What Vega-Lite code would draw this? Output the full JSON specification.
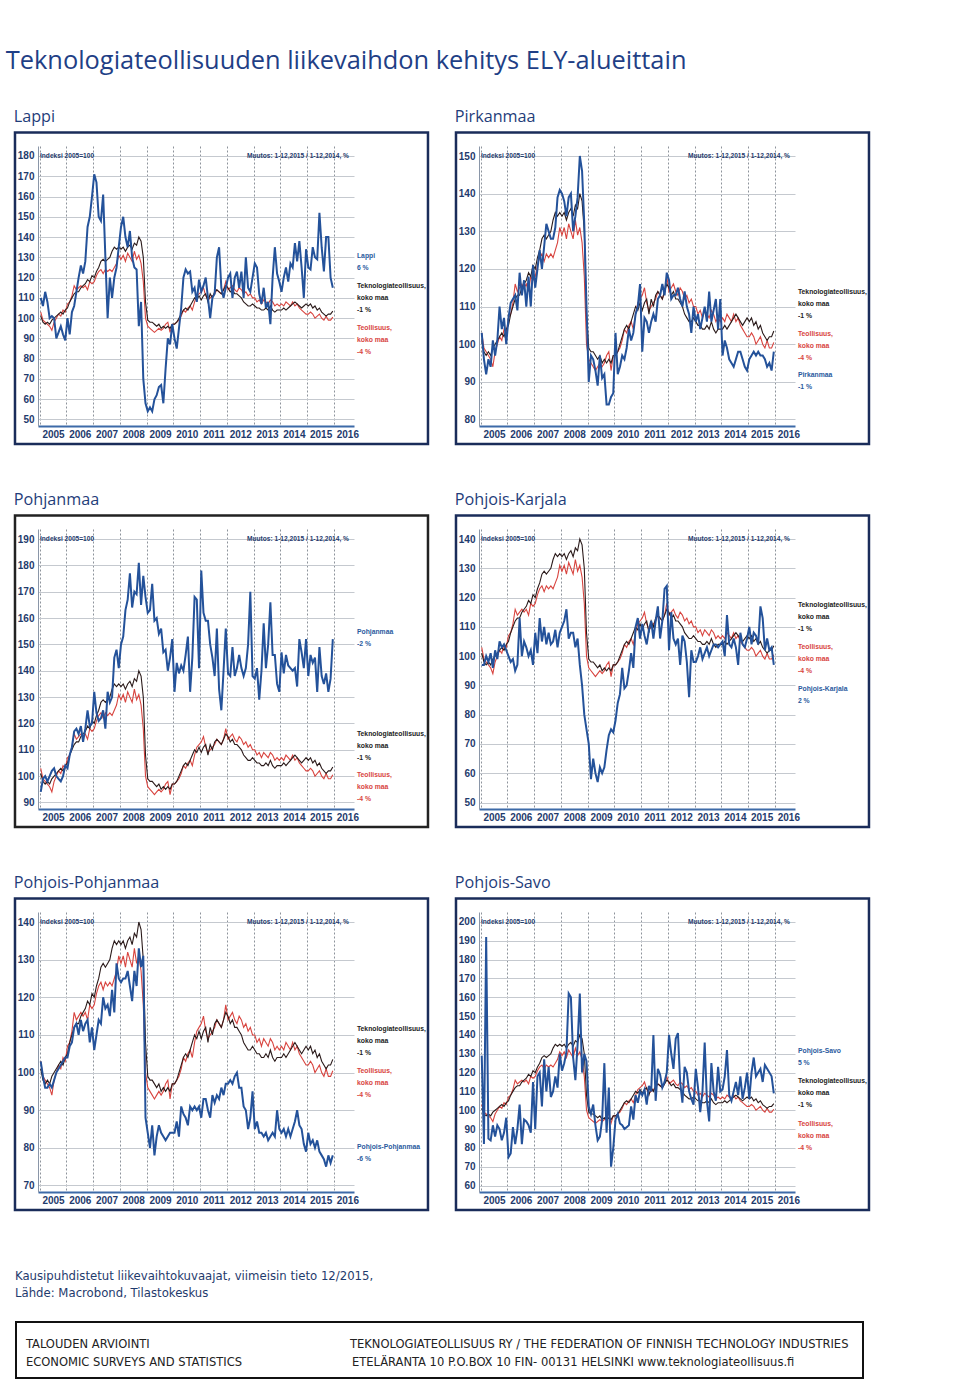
{
"$schema":"https://vega.github.io/schema/vega-lite/v6.json",
"background":"white",
"padding":{"top":48,"left":5,"right":5,"bottom":0},
"title":{"text":"Teknologiateollisuuden liikevaihdon kehitys ELY-alueittain","fontSize":25.4,"font":"Open Sans","fontWeight":"normal","color":"#1f3f86","anchor":"start","dx":-8,"offset":35},
"datasets":{"kk":[
{"t":2005.042,"tek":101,"teo":103,"Lappi":110,"Pirkanmaa":103,"Pohjanmaa":94,"PKarjala":97,"PPohjanmaa":103,"PSavo":129},
{"t":2005.125,"tek":98,"teo":99,"Lappi":106,"Pirkanmaa":96,"Pohjanmaa":99,"PKarjala":97,"PPohjanmaa":99,"PSavo":82},
{"t":2005.208,"tek":97,"teo":98,"Lappi":113,"Pirkanmaa":92,"Pohjanmaa":100,"PKarjala":100,"PPohjanmaa":96,"PSavo":192},
{"t":2005.292,"tek":98,"teo":97,"Lappi":108,"Pirkanmaa":96,"Pohjanmaa":98,"PKarjala":98,"PPohjanmaa":96,"PSavo":85},
{"t":2005.375,"tek":97,"teo":96,"Lappi":100,"Pirkanmaa":94,"Pohjanmaa":100,"PKarjala":101,"PPohjanmaa":97,"PSavo":84},
{"t":2005.458,"tek":99,"teo":94,"Lappi":101,"Pirkanmaa":101,"Pohjanmaa":102,"PKarjala":96,"PPohjanmaa":96,"PSavo":92},
{"t":2005.542,"tek":100,"teo":98,"Lappi":100,"Pirkanmaa":97,"Pohjanmaa":103,"PKarjala":102,"PPohjanmaa":98,"PSavo":86},
{"t":2005.625,"tek":101,"teo":100,"Lappi":90,"Pirkanmaa":101,"Pohjanmaa":100,"PKarjala":99,"PPohjanmaa":100,"PSavo":92},
{"t":2005.708,"tek":102,"teo":102,"Lappi":93,"Pirkanmaa":110,"Pohjanmaa":99,"PKarjala":105,"PPohjanmaa":101,"PSavo":90},
{"t":2005.792,"tek":103,"teo":101,"Lappi":96,"Pirkanmaa":104,"Pohjanmaa":98,"PKarjala":103,"PPohjanmaa":102,"PSavo":84},
{"t":2005.875,"tek":102,"teo":104,"Lappi":92,"Pirkanmaa":107,"Pohjanmaa":100,"PKarjala":104,"PPohjanmaa":103,"PSavo":88},
{"t":2005.958,"tek":104,"teo":103,"Lappi":89,"Pirkanmaa":100,"Pohjanmaa":104,"PKarjala":102,"PPohjanmaa":104,"PSavo":96},
{"t":2006.042,"tek":105,"teo":107,"Lappi":100,"Pirkanmaa":107,"Pohjanmaa":103,"PKarjala":100,"PPohjanmaa":104,"PSavo":75},
{"t":2006.125,"tek":108,"teo":108,"Lappi":92,"Pirkanmaa":111,"Pohjanmaa":108,"PKarjala":98,"PPohjanmaa":107,"PSavo":77},
{"t":2006.208,"tek":110,"teo":111,"Lappi":103,"Pirkanmaa":112,"Pohjanmaa":111,"PKarjala":99,"PPohjanmaa":108,"PSavo":91},
{"t":2006.292,"tek":112,"teo":116,"Lappi":106,"Pirkanmaa":113,"Pohjanmaa":117,"PKarjala":95,"PPohjanmaa":112,"PSavo":82},
{"t":2006.375,"tek":113,"teo":114,"Lappi":113,"Pirkanmaa":109,"Pohjanmaa":118,"PKarjala":97,"PPohjanmaa":113,"PSavo":90},
{"t":2006.458,"tek":113,"teo":115,"Lappi":120,"Pirkanmaa":119,"Pohjanmaa":116,"PKarjala":113,"PPohjanmaa":110,"PSavo":103},
{"t":2006.542,"tek":115,"teo":116,"Lappi":126,"Pirkanmaa":113,"Pohjanmaa":119,"PKarjala":100,"PPohjanmaa":114,"PSavo":82},
{"t":2006.625,"tek":116,"teo":115,"Lappi":122,"Pirkanmaa":117,"Pohjanmaa":113,"PKarjala":105,"PPohjanmaa":111,"PSavo":95},
{"t":2006.708,"tek":117,"teo":116,"Lappi":128,"Pirkanmaa":110,"Pohjanmaa":118,"PKarjala":103,"PPohjanmaa":113,"PSavo":94},
{"t":2006.792,"tek":119,"teo":114,"Lappi":145,"Pirkanmaa":118,"Pohjanmaa":125,"PKarjala":100,"PPohjanmaa":114,"PSavo":92},
{"t":2006.875,"tek":118,"teo":118,"Lappi":150,"Pirkanmaa":110,"Pohjanmaa":119,"PKarjala":102,"PPohjanmaa":108,"PSavo":88},
{"t":2006.958,"tek":121,"teo":117,"Lappi":160,"Pirkanmaa":121,"Pohjanmaa":120,"PKarjala":97,"PPohjanmaa":112,"PSavo":115},
{"t":2007.042,"tek":120,"teo":118,"Lappi":171,"Pirkanmaa":115,"Pohjanmaa":132,"PKarjala":108,"PPohjanmaa":106,"PSavo":90},
{"t":2007.125,"tek":123,"teo":121,"Lappi":167,"Pirkanmaa":120,"Pohjanmaa":124,"PKarjala":101,"PPohjanmaa":110,"PSavo":118},
{"t":2007.208,"tek":125,"teo":123,"Lappi":150,"Pirkanmaa":125,"Pohjanmaa":121,"PKarjala":113,"PPohjanmaa":114,"PSavo":120},
{"t":2007.292,"tek":128,"teo":124,"Lappi":148,"Pirkanmaa":120,"Pohjanmaa":122,"PKarjala":105,"PPohjanmaa":113,"PSavo":102},
{"t":2007.375,"tek":129,"teo":122,"Lappi":161,"Pirkanmaa":126,"Pohjanmaa":125,"PKarjala":110,"PPohjanmaa":120,"PSavo":127},
{"t":2007.458,"tek":128,"teo":124,"Lappi":130,"Pirkanmaa":132,"Pohjanmaa":118,"PKarjala":104,"PPohjanmaa":117,"PSavo":110},
{"t":2007.542,"tek":129,"teo":123,"Lappi":100,"Pirkanmaa":130,"Pohjanmaa":132,"PKarjala":108,"PPohjanmaa":118,"PSavo":123},
{"t":2007.625,"tek":130,"teo":124,"Lappi":120,"Pirkanmaa":128,"Pohjanmaa":128,"PKarjala":104,"PPohjanmaa":115,"PSavo":107},
{"t":2007.708,"tek":133,"teo":123,"Lappi":110,"Pirkanmaa":128,"Pohjanmaa":130,"PKarjala":105,"PPohjanmaa":122,"PSavo":110},
{"t":2007.792,"tek":135,"teo":125,"Lappi":120,"Pirkanmaa":131,"Pohjanmaa":145,"PKarjala":109,"PPohjanmaa":116,"PSavo":118},
{"t":2007.875,"tek":134,"teo":127,"Lappi":125,"Pirkanmaa":139,"Pohjanmaa":148,"PKarjala":103,"PPohjanmaa":129,"PSavo":112},
{"t":2007.958,"tek":135,"teo":131,"Lappi":135,"Pirkanmaa":141,"Pohjanmaa":141,"PKarjala":108,"PPohjanmaa":125,"PSavo":130},
{"t":2008.042,"tek":134,"teo":129,"Lappi":145,"Pirkanmaa":140,"Pohjanmaa":150,"PKarjala":110,"PPohjanmaa":124,"PSavo":121},
{"t":2008.125,"tek":135,"teo":131,"Lappi":150,"Pirkanmaa":138,"Pohjanmaa":153,"PKarjala":112,"PPohjanmaa":125,"PSavo":125},
{"t":2008.208,"tek":133,"teo":128,"Lappi":140,"Pirkanmaa":134,"Pohjanmaa":163,"PKarjala":116,"PPohjanmaa":125,"PSavo":131},
{"t":2008.292,"tek":135,"teo":132,"Lappi":135,"Pirkanmaa":139,"Pohjanmaa":167,"PKarjala":106,"PPohjanmaa":127,"PSavo":162},
{"t":2008.375,"tek":136,"teo":130,"Lappi":143,"Pirkanmaa":140,"Pohjanmaa":177,"PKarjala":108,"PPohjanmaa":123,"PSavo":160},
{"t":2008.458,"tek":134,"teo":128,"Lappi":130,"Pirkanmaa":130,"Pohjanmaa":164,"PKarjala":108,"PPohjanmaa":119,"PSavo":128},
{"t":2008.542,"tek":137,"teo":133,"Lappi":125,"Pirkanmaa":134,"Pohjanmaa":170,"PKarjala":103,"PPohjanmaa":127,"PSavo":116},
{"t":2008.625,"tek":136,"teo":129,"Lappi":124,"Pirkanmaa":139,"Pohjanmaa":169,"PKarjala":106,"PPohjanmaa":123,"PSavo":135},
{"t":2008.708,"tek":140,"teo":131,"Lappi":96,"Pirkanmaa":150,"Pohjanmaa":181,"PKarjala":97,"PPohjanmaa":133,"PSavo":162},
{"t":2008.792,"tek":138,"teo":127,"Lappi":108,"Pirkanmaa":146,"Pohjanmaa":165,"PKarjala":90,"PPohjanmaa":128,"PSavo":120},
{"t":2008.875,"tek":130,"teo":118,"Lappi":70,"Pirkanmaa":132,"Pohjanmaa":176,"PKarjala":80,"PPohjanmaa":131,"PSavo":130},
{"t":2008.958,"tek":108,"teo":100,"Lappi":58,"Pirkanmaa":110,"Pohjanmaa":168,"PKarjala":75,"PPohjanmaa":88,"PSavo":126},
{"t":2009.042,"tek":99,"teo":96,"Lappi":54,"Pirkanmaa":90,"Pohjanmaa":162,"PKarjala":70,"PPohjanmaa":84,"PSavo":102},
{"t":2009.125,"tek":98,"teo":95,"Lappi":56,"Pirkanmaa":97,"Pohjanmaa":163,"PKarjala":58,"PPohjanmaa":80,"PSavo":98},
{"t":2009.208,"tek":98,"teo":94,"Lappi":54,"Pirkanmaa":96,"Pohjanmaa":173,"PKarjala":65,"PPohjanmaa":86,"PSavo":103},
{"t":2009.292,"tek":97,"teo":93,"Lappi":60,"Pirkanmaa":93,"Pohjanmaa":159,"PKarjala":60,"PPohjanmaa":78,"PSavo":92},
{"t":2009.375,"tek":96,"teo":94,"Lappi":62,"Pirkanmaa":89,"Pohjanmaa":160,"PKarjala":57,"PPohjanmaa":83,"PSavo":84},
{"t":2009.458,"tek":97,"teo":95,"Lappi":66,"Pirkanmaa":97,"Pohjanmaa":154,"PKarjala":62,"PPohjanmaa":86,"PSavo":86},
{"t":2009.542,"tek":95,"teo":94,"Lappi":67,"Pirkanmaa":91,"Pohjanmaa":156,"PKarjala":60,"PPohjanmaa":84,"PSavo":95},
{"t":2009.625,"tek":96,"teo":95,"Lappi":58,"Pirkanmaa":92,"Pohjanmaa":147,"PKarjala":62,"PPohjanmaa":83,"PSavo":125},
{"t":2009.708,"tek":95,"teo":97,"Lappi":75,"Pirkanmaa":84,"Pohjanmaa":148,"PKarjala":68,"PPohjanmaa":82,"PSavo":88},
{"t":2009.792,"tek":96,"teo":98,"Lappi":90,"Pirkanmaa":84,"Pohjanmaa":140,"PKarjala":73,"PPohjanmaa":83,"PSavo":112},
{"t":2009.875,"tek":95,"teo":93,"Lappi":87,"Pirkanmaa":86,"Pohjanmaa":145,"PKarjala":75,"PPohjanmaa":84,"PSavo":70},
{"t":2009.958,"tek":97,"teo":97,"Lappi":97,"Pirkanmaa":87,"Pohjanmaa":152,"PKarjala":74,"PPohjanmaa":84,"PSavo":80},
{"t":2010.042,"tek":97,"teo":97,"Lappi":90,"Pirkanmaa":103,"Pohjanmaa":132,"PKarjala":78,"PPohjanmaa":84,"PSavo":95},
{"t":2010.125,"tek":98,"teo":98,"Lappi":85,"Pirkanmaa":92,"Pohjanmaa":143,"PKarjala":84,"PPohjanmaa":87,"PSavo":98},
{"t":2010.208,"tek":100,"teo":99,"Lappi":95,"Pirkanmaa":94,"Pohjanmaa":139,"PKarjala":87,"PPohjanmaa":83,"PSavo":93},
{"t":2010.292,"tek":102,"teo":101,"Lappi":105,"Pirkanmaa":97,"Pohjanmaa":142,"PKarjala":96,"PPohjanmaa":91,"PSavo":92},
{"t":2010.375,"tek":104,"teo":104,"Lappi":120,"Pirkanmaa":96,"Pohjanmaa":140,"PKarjala":89,"PPohjanmaa":89,"PSavo":90},
{"t":2010.458,"tek":105,"teo":103,"Lappi":124,"Pirkanmaa":99,"Pohjanmaa":146,"PKarjala":90,"PPohjanmaa":88,"PSavo":91},
{"t":2010.542,"tek":104,"teo":105,"Lappi":122,"Pirkanmaa":104,"Pohjanmaa":153,"PKarjala":95,"PPohjanmaa":86,"PSavo":92},
{"t":2010.625,"tek":106,"teo":106,"Lappi":123,"Pirkanmaa":101,"Pohjanmaa":132,"PKarjala":101,"PPohjanmaa":91,"PSavo":102},
{"t":2010.708,"tek":108,"teo":104,"Lappi":113,"Pirkanmaa":103,"Pohjanmaa":145,"PKarjala":96,"PPohjanmaa":90,"PSavo":95},
{"t":2010.792,"tek":110,"teo":108,"Lappi":115,"Pirkanmaa":108,"Pohjanmaa":168,"PKarjala":110,"PPohjanmaa":91,"PSavo":108},
{"t":2010.875,"tek":109,"teo":111,"Lappi":108,"Pirkanmaa":110,"Pohjanmaa":167,"PKarjala":113,"PPohjanmaa":90,"PSavo":104},
{"t":2010.958,"tek":111,"teo":112,"Lappi":119,"Pirkanmaa":116,"Pohjanmaa":141,"PKarjala":106,"PPohjanmaa":91,"PSavo":110},
{"t":2011.042,"tek":109,"teo":113,"Lappi":113,"Pirkanmaa":98,"Pohjanmaa":178,"PKarjala":111,"PPohjanmaa":88,"PSavo":108},
{"t":2011.125,"tek":111,"teo":115,"Lappi":116,"Pirkanmaa":107,"Pohjanmaa":162,"PKarjala":107,"PPohjanmaa":93,"PSavo":111},
{"t":2011.208,"tek":112,"teo":111,"Lappi":120,"Pirkanmaa":106,"Pohjanmaa":159,"PKarjala":104,"PPohjanmaa":93,"PSavo":103},
{"t":2011.292,"tek":108,"teo":109,"Lappi":110,"Pirkanmaa":103,"Pohjanmaa":159,"PKarjala":109,"PPohjanmaa":90,"PSavo":113},
{"t":2011.375,"tek":112,"teo":110,"Lappi":100,"Pirkanmaa":106,"Pohjanmaa":150,"PKarjala":112,"PPohjanmaa":88,"PSavo":110},
{"t":2011.458,"tek":110,"teo":111,"Lappi":110,"Pirkanmaa":108,"Pohjanmaa":145,"PKarjala":106,"PPohjanmaa":94,"PSavo":140},
{"t":2011.542,"tek":113,"teo":112,"Lappi":112,"Pirkanmaa":106,"Pohjanmaa":138,"PKarjala":112,"PPohjanmaa":92,"PSavo":105},
{"t":2011.625,"tek":114,"teo":114,"Lappi":130,"Pirkanmaa":112,"Pohjanmaa":156,"PKarjala":117,"PPohjanmaa":94,"PSavo":122},
{"t":2011.708,"tek":113,"teo":113,"Lappi":135,"Pirkanmaa":113,"Pohjanmaa":133,"PKarjala":106,"PPohjanmaa":93,"PSavo":119},
{"t":2011.792,"tek":112,"teo":112,"Lappi":115,"Pirkanmaa":116,"Pohjanmaa":125,"PKarjala":112,"PPohjanmaa":96,"PSavo":112},
{"t":2011.875,"tek":114,"teo":114,"Lappi":110,"Pirkanmaa":113,"Pohjanmaa":140,"PKarjala":123,"PPohjanmaa":94,"PSavo":115},
{"t":2011.958,"tek":116,"teo":118,"Lappi":115,"Pirkanmaa":119,"Pohjanmaa":156,"PKarjala":124,"PPohjanmaa":97,"PSavo":120},
{"t":2012.042,"tek":115,"teo":114,"Lappi":120,"Pirkanmaa":117,"Pohjanmaa":139,"PKarjala":102,"PPohjanmaa":97,"PSavo":140},
{"t":2012.125,"tek":113,"teo":115,"Lappi":122,"Pirkanmaa":112,"Pohjanmaa":138,"PKarjala":115,"PPohjanmaa":98,"PSavo":130},
{"t":2012.208,"tek":114,"teo":116,"Lappi":110,"Pirkanmaa":113,"Pohjanmaa":149,"PKarjala":106,"PPohjanmaa":97,"PSavo":122},
{"t":2012.292,"tek":112,"teo":114,"Lappi":120,"Pirkanmaa":113,"Pohjanmaa":138,"PKarjala":104,"PPohjanmaa":99,"PSavo":138},
{"t":2012.375,"tek":112,"teo":113,"Lappi":123,"Pirkanmaa":115,"Pohjanmaa":141,"PKarjala":106,"PPohjanmaa":100,"PSavo":141},
{"t":2012.458,"tek":111,"teo":115,"Lappi":115,"Pirkanmaa":112,"Pohjanmaa":146,"PKarjala":97,"PPohjanmaa":96,"PSavo":115},
{"t":2012.542,"tek":110,"teo":114,"Lappi":123,"Pirkanmaa":110,"Pohjanmaa":141,"PKarjala":107,"PPohjanmaa":96,"PSavo":104},
{"t":2012.625,"tek":108,"teo":112,"Lappi":110,"Pirkanmaa":114,"Pohjanmaa":138,"PKarjala":105,"PPohjanmaa":91,"PSavo":123},
{"t":2012.708,"tek":107,"teo":113,"Lappi":130,"Pirkanmaa":110,"Pohjanmaa":141,"PKarjala":98,"PPohjanmaa":90,"PSavo":120},
{"t":2012.792,"tek":106,"teo":111,"Lappi":115,"Pirkanmaa":108,"Pohjanmaa":150,"PKarjala":86,"PPohjanmaa":85,"PSavo":110},
{"t":2012.875,"tek":106,"teo":112,"Lappi":113,"Pirkanmaa":103,"Pohjanmaa":170,"PKarjala":102,"PPohjanmaa":88,"PSavo":106},
{"t":2012.958,"tek":107,"teo":110,"Lappi":120,"Pirkanmaa":110,"Pohjanmaa":138,"PKarjala":98,"PPohjanmaa":95,"PSavo":103},
{"t":2013.042,"tek":106,"teo":110,"Lappi":127,"Pirkanmaa":106,"Pohjanmaa":137,"PKarjala":98,"PPohjanmaa":85,"PSavo":122},
{"t":2013.125,"tek":105,"teo":108,"Lappi":125,"Pirkanmaa":108,"Pohjanmaa":141,"PKarjala":100,"PPohjanmaa":87,"PSavo":112},
{"t":2013.208,"tek":105,"teo":109,"Lappi":112,"Pirkanmaa":104,"Pohjanmaa":129,"PKarjala":103,"PPohjanmaa":84,"PSavo":99},
{"t":2013.292,"tek":104,"teo":107,"Lappi":107,"Pirkanmaa":107,"Pohjanmaa":140,"PKarjala":99,"PPohjanmaa":84,"PSavo":110},
{"t":2013.375,"tek":104,"teo":109,"Lappi":115,"Pirkanmaa":110,"Pohjanmaa":158,"PKarjala":101,"PPohjanmaa":83,"PSavo":136},
{"t":2013.458,"tek":105,"teo":108,"Lappi":105,"Pirkanmaa":106,"Pohjanmaa":141,"PKarjala":103,"PPohjanmaa":84,"PSavo":105},
{"t":2013.542,"tek":104,"teo":107,"Lappi":108,"Pirkanmaa":114,"Pohjanmaa":150,"PKarjala":100,"PPohjanmaa":82,"PSavo":94},
{"t":2013.625,"tek":106,"teo":109,"Lappi":97,"Pirkanmaa":106,"Pohjanmaa":166,"PKarjala":102,"PPohjanmaa":83,"PSavo":125},
{"t":2013.708,"tek":104,"teo":108,"Lappi":120,"Pirkanmaa":109,"Pohjanmaa":146,"PKarjala":104,"PPohjanmaa":84,"PSavo":110},
{"t":2013.792,"tek":103,"teo":106,"Lappi":135,"Pirkanmaa":112,"Pohjanmaa":146,"PKarjala":104,"PPohjanmaa":83,"PSavo":105},
{"t":2013.875,"tek":104,"teo":107,"Lappi":122,"Pirkanmaa":104,"Pohjanmaa":135,"PKarjala":103,"PPohjanmaa":90,"PSavo":123},
{"t":2013.958,"tek":104,"teo":106,"Lappi":118,"Pirkanmaa":112,"Pohjanmaa":132,"PKarjala":104,"PPohjanmaa":85,"PSavo":110},
{"t":2014.042,"tek":104,"teo":107,"Lappi":113,"Pirkanmaa":97,"Pohjanmaa":147,"PKarjala":105,"PPohjanmaa":84,"PSavo":111},
{"t":2014.125,"tek":105,"teo":106,"Lappi":120,"Pirkanmaa":101,"Pohjanmaa":139,"PKarjala":100,"PPohjanmaa":85,"PSavo":118},
{"t":2014.208,"tek":104,"teo":108,"Lappi":125,"Pirkanmaa":99,"Pohjanmaa":146,"PKarjala":114,"PPohjanmaa":83,"PSavo":132},
{"t":2014.292,"tek":105,"teo":107,"Lappi":118,"Pirkanmaa":96,"Pohjanmaa":142,"PKarjala":104,"PPohjanmaa":85,"PSavo":108},
{"t":2014.375,"tek":106,"teo":106,"Lappi":127,"Pirkanmaa":95,"Pohjanmaa":141,"PKarjala":103,"PPohjanmaa":83,"PSavo":105},
{"t":2014.458,"tek":107,"teo":108,"Lappi":125,"Pirkanmaa":94,"Pohjanmaa":140,"PKarjala":106,"PPohjanmaa":85,"PSavo":110},
{"t":2014.542,"tek":108,"teo":106,"Lappi":137,"Pirkanmaa":96,"Pohjanmaa":141,"PKarjala":103,"PPohjanmaa":87,"PSavo":115},
{"t":2014.625,"tek":107,"teo":107,"Lappi":128,"Pirkanmaa":98,"Pohjanmaa":134,"PKarjala":97,"PPohjanmaa":90,"PSavo":108},
{"t":2014.708,"tek":106,"teo":105,"Lappi":138,"Pirkanmaa":98,"Pohjanmaa":152,"PKarjala":108,"PPohjanmaa":86,"PSavo":118},
{"t":2014.792,"tek":105,"teo":104,"Lappi":125,"Pirkanmaa":96,"Pohjanmaa":147,"PKarjala":104,"PPohjanmaa":85,"PSavo":106},
{"t":2014.875,"tek":106,"teo":103,"Lappi":110,"Pirkanmaa":94,"Pohjanmaa":141,"PKarjala":103,"PPohjanmaa":81,"PSavo":112},
{"t":2014.958,"tek":107,"teo":102,"Lappi":134,"Pirkanmaa":93,"Pohjanmaa":152,"PKarjala":106,"PPohjanmaa":79,"PSavo":120},
{"t":2015.042,"tek":106,"teo":102,"Lappi":125,"Pirkanmaa":96,"Pohjanmaa":138,"PKarjala":110,"PPohjanmaa":84,"PSavo":106},
{"t":2015.125,"tek":107,"teo":103,"Lappi":124,"Pirkanmaa":97,"Pohjanmaa":146,"PKarjala":104,"PPohjanmaa":81,"PSavo":120},
{"t":2015.208,"tek":105,"teo":102,"Lappi":135,"Pirkanmaa":98,"Pohjanmaa":143,"PKarjala":108,"PPohjanmaa":82,"PSavo":128},
{"t":2015.292,"tek":106,"teo":100,"Lappi":130,"Pirkanmaa":97,"Pohjanmaa":145,"PKarjala":107,"PPohjanmaa":80,"PSavo":118},
{"t":2015.375,"tek":104,"teo":101,"Lappi":129,"Pirkanmaa":98,"Pohjanmaa":132,"PKarjala":104,"PPohjanmaa":82,"PSavo":120},
{"t":2015.458,"tek":105,"teo":102,"Lappi":152,"Pirkanmaa":97,"Pohjanmaa":149,"PKarjala":117,"PPohjanmaa":79,"PSavo":122},
{"t":2015.542,"tek":103,"teo":100,"Lappi":135,"Pirkanmaa":97,"Pohjanmaa":138,"PKarjala":113,"PPohjanmaa":78,"PSavo":115},
{"t":2015.625,"tek":102,"teo":99,"Lappi":123,"Pirkanmaa":96,"Pohjanmaa":135,"PKarjala":102,"PPohjanmaa":77,"PSavo":124},
{"t":2015.708,"tek":101,"teo":101,"Lappi":140,"Pirkanmaa":94,"Pohjanmaa":139,"PKarjala":106,"PPohjanmaa":75,"PSavo":122},
{"t":2015.792,"tek":102,"teo":99,"Lappi":140,"Pirkanmaa":95,"Pohjanmaa":132,"PKarjala":102,"PPohjanmaa":78,"PSavo":120},
{"t":2015.875,"tek":102,"teo":99,"Lappi":120,"Pirkanmaa":93,"Pohjanmaa":137,"PKarjala":103,"PPohjanmaa":76,"PSavo":118},
{"t":2015.958,"tek":103.5,"teo":100.5,"Lappi":115,"Pirkanmaa":98,"Pohjanmaa":152,"PKarjala":97,"PPohjanmaa":78,"PSavo":109}
]},
"vconcat":[
{"spacing":46,"vconcat":[
{"spacing":24,"hconcat":[
{"title":"Lappi","width":316,"height":280,
 "layer":[
  {"data":{"name":"kk"},"mark":{"type":"line","color":"#d8443f","strokeWidth":1.1},"encoding":{"x":{"field":"t","type":"quantitative","scale":{"domain":[2004.94,2016.75],"zero":false,"nice":false},"axis":{"values":[2005,2006,2007,2008,2009,2010,2011,2012,2013,2014,2015,2016],"tickCount":40,"format":"d"}},"y":{"field":"teo","type":"quantitative","scale":{"domain":[46.79,184.93],"zero":false,"nice":false},"axis":{"values":[50,60,70,80,90,100,110,120,130,140,150,160,170,180],"tickCount":40,"labelOverlap":false}}}},
  {"data":{"name":"kk"},"mark":{"type":"line","color":"#2b1b1b","strokeWidth":1.1},"encoding":{"x":{"field":"t","type":"quantitative"},"y":{"field":"tek","type":"quantitative"}}},
  {"data":{"name":"kk"},"mark":{"type":"line","color":"#24529a","strokeWidth":2},"encoding":{"x":{"field":"t","type":"quantitative"},"y":{"field":"Lappi","type":"quantitative"}}},
  {"data":{"values":[{}]},"mark":{"type":"rect","filled":false,"stroke":"#1a2c5a","strokeWidth":2.5},"encoding":{"x":{"datum":2004.08,"type":"quantitative"},"x2":{"datum":2019.515},"y":{"datum":191.59,"type":"quantitative"},"y2":{"datum":37.91}}},
  {"data":{"values":[{}]},"mark":{"type":"text","align":"left","baseline":"middle","color":"#1f3b6d","fontSize":6.6},"encoding":{"x":{"datum":2005.015,"type":"quantitative"},"y":{"datum":180,"type":"quantitative"},"text":{"value":"Indeksi 2005=100"}}},
  {"data":{"values":[{}]},"mark":{"type":"text","align":"right","baseline":"middle","color":"#1f3b6d","fontSize":6.6},"encoding":{"x":{"datum":2016.56,"type":"quantitative"},"y":{"datum":180,"type":"quantitative"},"text":{"value":"Muutos: 1-12,2015 / 1-12,2014, %"}}},
  {"data":{"values":[{}]},"mark":{"type":"text","align":"left","baseline":"top","color":"#2a5a9e"},"encoding":{"x":{"datum":2016.86,"type":"quantitative"},"y":{"datum":132.3,"type":"quantitative"},"text":{"value":["Lappi","6 %"]}}},
  {"data":{"values":[{}]},"mark":{"type":"text","align":"left","baseline":"top","color":"#222222"},"encoding":{"x":{"datum":2016.86,"type":"quantitative"},"y":{"datum":117.5,"type":"quantitative"},"text":{"value":["Teknologiateollisuus,","koko maa","-1 %"]}}},
  {"data":{"values":[{}]},"mark":{"type":"text","align":"left","baseline":"top","color":"#d8443f"},"encoding":{"x":{"datum":2016.86,"type":"quantitative"},"y":{"datum":96.8,"type":"quantitative"},"text":{"value":["Teollisuus,","koko maa","-4 %"]}}}
 ]},
{"title":"Pirkanmaa","width":316,"height":280,
 "layer":[
  {"data":{"name":"kk"},"mark":{"type":"line","color":"#d8443f","strokeWidth":1.1},"encoding":{"x":{"field":"t","type":"quantitative","scale":{"domain":[2004.94,2016.75],"zero":false,"nice":false},"axis":{"values":[2005,2006,2007,2008,2009,2010,2011,2012,2013,2014,2015,2016],"tickCount":40,"format":"d"}},"y":{"field":"teo","type":"quantitative","scale":{"domain":[78.27,152.66],"zero":false,"nice":false},"axis":{"values":[80,90,100,110,120,130,140,150],"tickCount":40,"labelOverlap":false}}}},
  {"data":{"name":"kk"},"mark":{"type":"line","color":"#2b1b1b","strokeWidth":1.1},"encoding":{"x":{"field":"t","type":"quantitative"},"y":{"field":"tek","type":"quantitative"}}},
  {"data":{"name":"kk"},"mark":{"type":"line","color":"#24529a","strokeWidth":2},"encoding":{"x":{"field":"t","type":"quantitative"},"y":{"field":"Pirkanmaa","type":"quantitative"}}},
  {"data":{"values":[{}]},"mark":{"type":"rect","filled":false,"stroke":"#1a2c5a","strokeWidth":2.5},"encoding":{"x":{"datum":2004.08,"type":"quantitative"},"x2":{"datum":2019.515},"y":{"datum":156.25,"type":"quantitative"},"y2":{"datum":73.49}}},
  {"data":{"values":[{}]},"mark":{"type":"text","align":"left","baseline":"middle","color":"#1f3b6d","fontSize":6.6},"encoding":{"x":{"datum":2005.015,"type":"quantitative"},"y":{"datum":150,"type":"quantitative"},"text":{"value":"Indeksi 2005=100"}}},
  {"data":{"values":[{}]},"mark":{"type":"text","align":"right","baseline":"middle","color":"#1f3b6d","fontSize":6.6},"encoding":{"x":{"datum":2016.56,"type":"quantitative"},"y":{"datum":150,"type":"quantitative"},"text":{"value":"Muutos: 1-12,2015 / 1-12,2014, %"}}},
  {"data":{"values":[{}]},"mark":{"type":"text","align":"left","baseline":"top","color":"#222222"},"encoding":{"x":{"datum":2016.86,"type":"quantitative"},"y":{"datum":114.8,"type":"quantitative"},"text":{"value":["Teknologiateollisuus,","koko maa","-1 %"]}}},
  {"data":{"values":[{}]},"mark":{"type":"text","align":"left","baseline":"top","color":"#d8443f"},"encoding":{"x":{"datum":2016.86,"type":"quantitative"},"y":{"datum":103.6,"type":"quantitative"},"text":{"value":["Teollisuus,","koko maa","-4 %"]}}},
  {"data":{"values":[{}]},"mark":{"type":"text","align":"left","baseline":"top","color":"#2a5a9e"},"encoding":{"x":{"datum":2016.86,"type":"quantitative"},"y":{"datum":92.6,"type":"quantitative"},"text":{"value":["Pirkanmaa","-1 %"]}}}
 ]}
]},
{"spacing":24,"hconcat":[
{"title":"Pohjanmaa","width":316,"height":280,
 "layer":[
  {"data":{"name":"kk"},"mark":{"type":"line","color":"#d8443f","strokeWidth":1.1},"encoding":{"x":{"field":"t","type":"quantitative","scale":{"domain":[2004.94,2016.75],"zero":false,"nice":false},"axis":{"values":[2005,2006,2007,2008,2009,2010,2011,2012,2013,2014,2015,2016],"tickCount":40,"format":"d"}},"y":{"field":"teo","type":"quantitative","scale":{"domain":[87.53,193.80],"zero":false,"nice":false},"axis":{"values":[90,100,110,120,130,140,150,160,170,180,190],"tickCount":40,"labelOverlap":false}}}},
  {"data":{"name":"kk"},"mark":{"type":"line","color":"#2b1b1b","strokeWidth":1.1},"encoding":{"x":{"field":"t","type":"quantitative"},"y":{"field":"tek","type":"quantitative"}}},
  {"data":{"name":"kk"},"mark":{"type":"line","color":"#24529a","strokeWidth":2},"encoding":{"x":{"field":"t","type":"quantitative"},"y":{"field":"Pohjanmaa","type":"quantitative"}}},
  {"data":{"values":[{}]},"mark":{"type":"rect","filled":false,"stroke":"#222222","strokeWidth":2.5},"encoding":{"x":{"datum":2004.08,"type":"quantitative"},"x2":{"datum":2019.515},"y":{"datum":198.92,"type":"quantitative"},"y2":{"datum":80.70}}},
  {"data":{"values":[{}]},"mark":{"type":"text","align":"left","baseline":"middle","color":"#1f3b6d","fontSize":6.6},"encoding":{"x":{"datum":2005.015,"type":"quantitative"},"y":{"datum":190,"type":"quantitative"},"text":{"value":"Indeksi 2005=100"}}},
  {"data":{"values":[{}]},"mark":{"type":"text","align":"right","baseline":"middle","color":"#1f3b6d","fontSize":6.6},"encoding":{"x":{"datum":2016.56,"type":"quantitative"},"y":{"datum":190,"type":"quantitative"},"text":{"value":"Muutos: 1-12,2015 / 1-12,2014, %"}}},
  {"data":{"values":[{}]},"mark":{"type":"text","align":"left","baseline":"top","color":"#2a5a9e"},"encoding":{"x":{"datum":2016.86,"type":"quantitative"},"y":{"datum":155.8,"type":"quantitative"},"text":{"value":["Pohjanmaa","-2 %"]}}},
  {"data":{"values":[{}]},"mark":{"type":"text","align":"left","baseline":"top","color":"#222222"},"encoding":{"x":{"datum":2016.86,"type":"quantitative"},"y":{"datum":117.3,"type":"quantitative"},"text":{"value":["Teknologiateollisuus,","koko maa","-1 %"]}}},
  {"data":{"values":[{}]},"mark":{"type":"text","align":"left","baseline":"top","color":"#d8443f"},"encoding":{"x":{"datum":2016.86,"type":"quantitative"},"y":{"datum":101.5,"type":"quantitative"},"text":{"value":["Teollisuus,","koko maa","-4 %"]}}}
 ]},
{"title":"Pohjois-Karjala","width":316,"height":280,
 "layer":[
  {"data":{"name":"kk"},"mark":{"type":"line","color":"#d8443f","strokeWidth":1.1},"encoding":{"x":{"field":"t","type":"quantitative","scale":{"domain":[2004.94,2016.75],"zero":false,"nice":false},"axis":{"values":[2005,2006,2007,2008,2009,2010,2011,2012,2013,2014,2015,2016],"tickCount":40,"format":"d"}},"y":{"field":"teo","type":"quantitative","scale":{"domain":[47.78,143.42],"zero":false,"nice":false},"axis":{"values":[50,60,70,80,90,100,110,120,130,140],"tickCount":40,"labelOverlap":false}}}},
  {"data":{"name":"kk"},"mark":{"type":"line","color":"#2b1b1b","strokeWidth":1.1},"encoding":{"x":{"field":"t","type":"quantitative"},"y":{"field":"tek","type":"quantitative"}}},
  {"data":{"name":"kk"},"mark":{"type":"line","color":"#24529a","strokeWidth":2},"encoding":{"x":{"field":"t","type":"quantitative"},"y":{"field":"PKarjala","type":"quantitative"}}},
  {"data":{"values":[{}]},"mark":{"type":"rect","filled":false,"stroke":"#1a2c5a","strokeWidth":2.5},"encoding":{"x":{"datum":2004.08,"type":"quantitative"},"x2":{"datum":2019.515},"y":{"datum":148.03,"type":"quantitative"},"y2":{"datum":41.63}}},
  {"data":{"values":[{}]},"mark":{"type":"text","align":"left","baseline":"middle","color":"#1f3b6d","fontSize":6.6},"encoding":{"x":{"datum":2005.015,"type":"quantitative"},"y":{"datum":140,"type":"quantitative"},"text":{"value":"Indeksi 2005=100"}}},
  {"data":{"values":[{}]},"mark":{"type":"text","align":"right","baseline":"middle","color":"#1f3b6d","fontSize":6.6},"encoding":{"x":{"datum":2016.56,"type":"quantitative"},"y":{"datum":140,"type":"quantitative"},"text":{"value":"Muutos: 1-12,2015 / 1-12,2014, %"}}},
  {"data":{"values":[{}]},"mark":{"type":"text","align":"left","baseline":"top","color":"#222222"},"encoding":{"x":{"datum":2016.86,"type":"quantitative"},"y":{"datum":118.6,"type":"quantitative"},"text":{"value":["Teknologiateollisuus,","koko maa","-1 %"]}}},
  {"data":{"values":[{}]},"mark":{"type":"text","align":"left","baseline":"top","color":"#d8443f"},"encoding":{"x":{"datum":2016.86,"type":"quantitative"},"y":{"datum":104.3,"type":"quantitative"},"text":{"value":["Teollisuus,","koko maa","-4 %"]}}},
  {"data":{"values":[{}]},"mark":{"type":"text","align":"left","baseline":"top","color":"#2a5a9e"},"encoding":{"x":{"datum":2016.86,"type":"quantitative"},"y":{"datum":89.8,"type":"quantitative"},"text":{"value":["Pohjois-Karjala","2 %"]}}}
 ]}
]},
{"spacing":24,"hconcat":[
{"title":"Pohjois-Pohjanmaa","width":316,"height":280,
 "layer":[
  {"data":{"name":"kk"},"mark":{"type":"line","color":"#d8443f","strokeWidth":1.1},"encoding":{"x":{"field":"t","type":"quantitative","scale":{"domain":[2004.94,2016.75],"zero":false,"nice":false},"axis":{"values":[2005,2006,2007,2008,2009,2010,2011,2012,2013,2014,2015,2016],"tickCount":40,"format":"d"}},"y":{"field":"teo","type":"quantitative","scale":{"domain":[68.27,142.66],"zero":false,"nice":false},"axis":{"values":[70,80,90,100,110,120,130,140],"tickCount":40,"labelOverlap":false}}}},
  {"data":{"name":"kk"},"mark":{"type":"line","color":"#2b1b1b","strokeWidth":1.1},"encoding":{"x":{"field":"t","type":"quantitative"},"y":{"field":"tek","type":"quantitative"}}},
  {"data":{"name":"kk"},"mark":{"type":"line","color":"#24529a","strokeWidth":2},"encoding":{"x":{"field":"t","type":"quantitative"},"y":{"field":"PPohjanmaa","type":"quantitative"}}},
  {"data":{"values":[{}]},"mark":{"type":"rect","filled":false,"stroke":"#1a2c5a","strokeWidth":2.5},"encoding":{"x":{"datum":2004.08,"type":"quantitative"},"x2":{"datum":2019.515},"y":{"datum":146.25,"type":"quantitative"},"y2":{"datum":63.49}}},
  {"data":{"values":[{}]},"mark":{"type":"text","align":"left","baseline":"middle","color":"#1f3b6d","fontSize":6.6},"encoding":{"x":{"datum":2005.015,"type":"quantitative"},"y":{"datum":140,"type":"quantitative"},"text":{"value":"Indeksi 2005=100"}}},
  {"data":{"values":[{}]},"mark":{"type":"text","align":"right","baseline":"middle","color":"#1f3b6d","fontSize":6.6},"encoding":{"x":{"datum":2016.56,"type":"quantitative"},"y":{"datum":140,"type":"quantitative"},"text":{"value":"Muutos: 1-12,2015 / 1-12,2014, %"}}},
  {"data":{"values":[{}]},"mark":{"type":"text","align":"left","baseline":"top","color":"#222222"},"encoding":{"x":{"datum":2016.86,"type":"quantitative"},"y":{"datum":112.3,"type":"quantitative"},"text":{"value":["Teknologiateollisuus,","koko maa","-1 %"]}}},
  {"data":{"values":[{}]},"mark":{"type":"text","align":"left","baseline":"top","color":"#d8443f"},"encoding":{"x":{"datum":2016.86,"type":"quantitative"},"y":{"datum":101.3,"type":"quantitative"},"text":{"value":["Teollisuus,","koko maa","-4 %"]}}},
  {"data":{"values":[{}]},"mark":{"type":"text","align":"left","baseline":"top","color":"#2a5a9e"},"encoding":{"x":{"datum":2016.86,"type":"quantitative"},"y":{"datum":81.1,"type":"quantitative"},"text":{"value":["Pohjois-Pohjanmaa","-6 %"]}}}
 ]},
{"title":"Pohjois-Savo","width":316,"height":280,
 "layer":[
  {"data":{"name":"kk"},"mark":{"type":"line","color":"#d8443f","strokeWidth":1.1},"encoding":{"x":{"field":"t","type":"quantitative","scale":{"domain":[2004.94,2016.75],"zero":false,"nice":false},"axis":{"values":[2005,2006,2007,2008,2009,2010,2011,2012,2013,2014,2015,2016],"tickCount":40,"format":"d"}},"y":{"field":"teo","type":"quantitative","scale":{"domain":[56.55,205.31],"zero":false,"nice":false},"axis":{"values":[60,70,80,90,100,110,120,130,140,150,160,170,180,190,200],"tickCount":40,"labelOverlap":false}}}},
  {"data":{"name":"kk"},"mark":{"type":"line","color":"#2b1b1b","strokeWidth":1.1},"encoding":{"x":{"field":"t","type":"quantitative"},"y":{"field":"tek","type":"quantitative"}}},
  {"data":{"name":"kk"},"mark":{"type":"line","color":"#24529a","strokeWidth":2},"encoding":{"x":{"field":"t","type":"quantitative"},"y":{"field":"PSavo","type":"quantitative"}}},
  {"data":{"values":[{}]},"mark":{"type":"rect","filled":false,"stroke":"#1a2c5a","strokeWidth":2.5},"encoding":{"x":{"datum":2004.08,"type":"quantitative"},"x2":{"datum":2019.515},"y":{"datum":212.48,"type":"quantitative"},"y2":{"datum":46.99}}},
  {"data":{"values":[{}]},"mark":{"type":"text","align":"left","baseline":"middle","color":"#1f3b6d","fontSize":6.6},"encoding":{"x":{"datum":2005.015,"type":"quantitative"},"y":{"datum":200,"type":"quantitative"},"text":{"value":"Indeksi 2005=100"}}},
  {"data":{"values":[{}]},"mark":{"type":"text","align":"right","baseline":"middle","color":"#1f3b6d","fontSize":6.6},"encoding":{"x":{"datum":2016.56,"type":"quantitative"},"y":{"datum":200,"type":"quantitative"},"text":{"value":"Muutos: 1-12,2015 / 1-12,2014, %"}}},
  {"data":{"values":[{}]},"mark":{"type":"text","align":"left","baseline":"top","color":"#2a5a9e"},"encoding":{"x":{"datum":2016.86,"type":"quantitative"},"y":{"datum":132.8,"type":"quantitative"},"text":{"value":["Pohjois-Savo","5 %"]}}},
  {"data":{"values":[{}]},"mark":{"type":"text","align":"left","baseline":"top","color":"#222222"},"encoding":{"x":{"datum":2016.86,"type":"quantitative"},"y":{"datum":117.1,"type":"quantitative"},"text":{"value":["Teknologiateollisuus,","koko maa","-1 %"]}}},
  {"data":{"values":[{}]},"mark":{"type":"text","align":"left","baseline":"top","color":"#d8443f"},"encoding":{"x":{"datum":2016.86,"type":"quantitative"},"y":{"datum":94.5,"type":"quantitative"},"text":{"value":["Teollisuus,","koko maa","-4 %"]}}}
 ]}
]}
]},
{"width":825,"height":56,
 "title":{"text":["Kausipuhdistetut liikevaihtokuvaajat, viimeisin tieto 12/2015,","Lähde: Macrobond, Tilastokeskus"],"font":"DejaVu Sans Condensed, Liberation Sans, sans-serif","fontSize":13,"color":"#1f3b6d","lineHeight":17,"offset":21,"anchor":"start"},
 "layer":[
  {"data":{"values":[{}]},"mark":{"type":"rect","filled":false,"stroke":"#111111","strokeWidth":2},"encoding":{"x":{"datum":0,"type":"quantitative","scale":{"domain":[0,1],"range":[-22,825]},"axis":null},"x2":{"datum":1},"y":{"datum":0,"type":"quantitative","scale":{"domain":[0,1],"range":[0,56]},"axis":null},"y2":{"datum":1}}},
  {"data":{"values":[{}]},"mark":{"type":"text","align":"left","baseline":"middle","font":"DejaVu Sans Condensed, Liberation Sans, sans-serif","fontWeight":"normal","fontSize":12.8,"color":"#222222"},"encoding":{"x":{"datum":0.0118,"type":"quantitative"},"y":{"datum":0.393,"type":"quantitative"},"text":{"value":"TALOUDEN ARVIOINTI"}}},
  {"data":{"values":[{}]},"mark":{"type":"text","align":"left","baseline":"middle","font":"DejaVu Sans Condensed, Liberation Sans, sans-serif","fontWeight":"normal","fontSize":12.8,"color":"#222222"},"encoding":{"x":{"datum":0.0118,"type":"quantitative"},"y":{"datum":0.714,"type":"quantitative"},"text":{"value":"ECONOMIC SURVEYS AND STATISTICS"}}},
  {"data":{"values":[{}]},"mark":{"type":"text","align":"left","baseline":"middle","font":"DejaVu Sans Condensed, Liberation Sans, sans-serif","fontWeight":"normal","fontSize":12.8,"color":"#222222"},"encoding":{"x":{"datum":0.3943,"type":"quantitative"},"y":{"datum":0.393,"type":"quantitative"},"text":{"value":"TEKNOLOGIATEOLLISUUS RY / THE FEDERATION OF FINNISH TECHNOLOGY INDUSTRIES"}}},
  {"data":{"values":[{}]},"mark":{"type":"text","align":"left","baseline":"middle","font":"DejaVu Sans Condensed, Liberation Sans, sans-serif","fontWeight":"normal","fontSize":12.8,"color":"#222222"},"encoding":{"x":{"datum":0.3966,"type":"quantitative"},"y":{"datum":0.714,"type":"quantitative"},"text":{"value":"ETELÄRANTA 10 P.O.BOX 10 FIN- 00131  HELSINKI  www.teknologiateollisuus.fi"}}}
 ]}
],
"spacing":58,
"config":{
 "view":{"stroke":null},
 "title":{"font":"Open Sans","fontWeight":"normal","color":"#1f3d7a","fontSize":16.2,"anchor":"start","offset":6},
 "axis":{"title":null,"labelFont":"Liberation Sans","labelFontWeight":"bold","labelFontSize":10,"labelColor":"#1f3b6d","ticks":false},
 "axisX":{"grid":true,"gridDash":[2,2],"gridColor":"#8d939b","gridWidth":1,"domainColor":"#3d6aa8","domainWidth":2,"labelOffset":13.4,"labelFlush":false,"labelOverlap":false,"labelPadding":3},
 "axisY":{"grid":true,"gridColor":"#c5c9cf","domainColor":"#8a96a8","labelPadding":4,"labelOverlap":false},
 "text":{"font":"Liberation Sans","fontWeight":"bold","fontSize":6.8,"lineHeight":12}
}
}
